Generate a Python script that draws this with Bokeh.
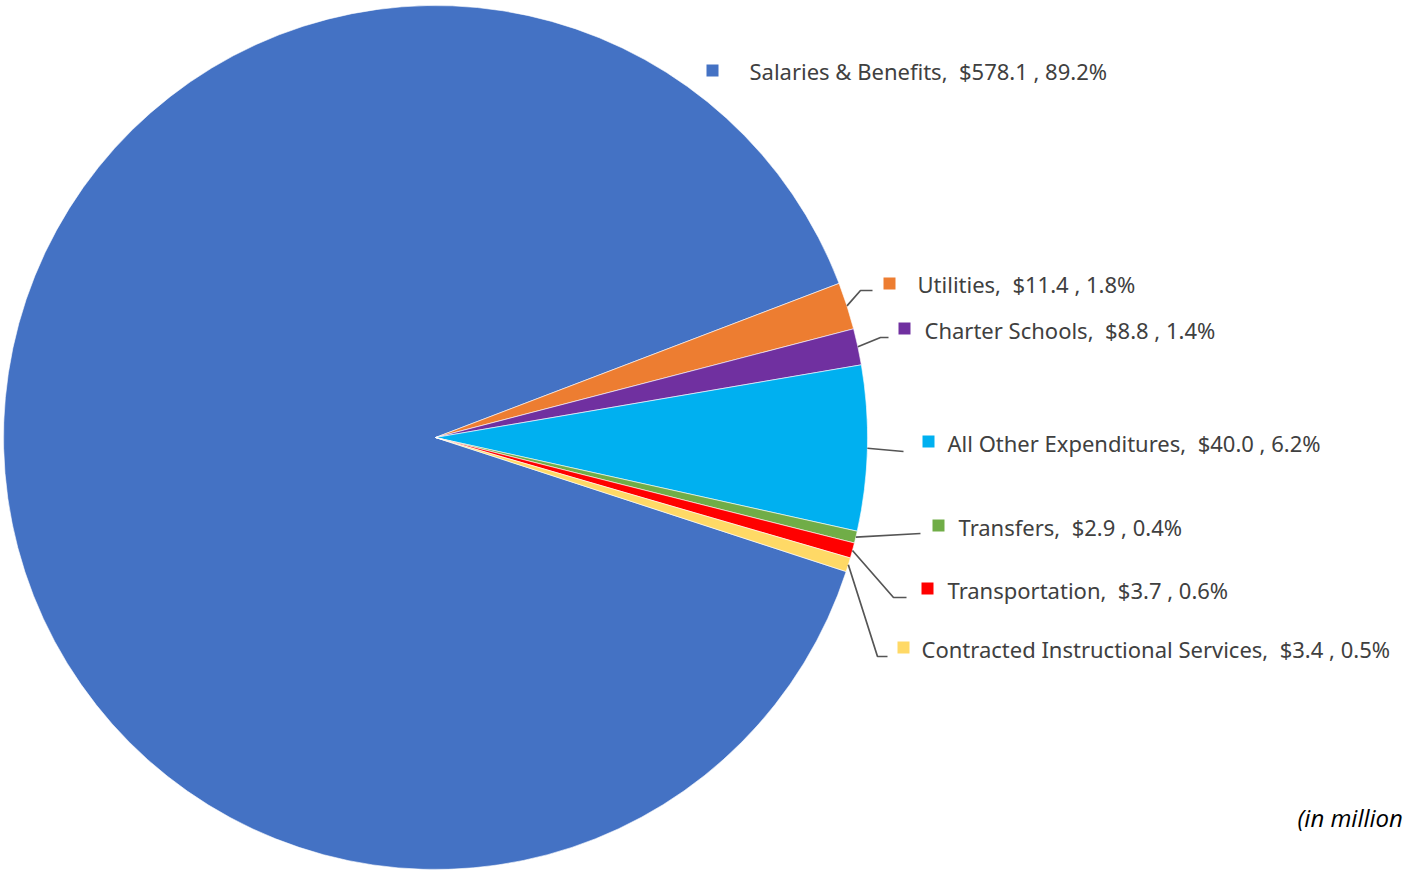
import math
from bokeh.plotting import figure
from bokeh.models import Range1d, ColumnDataSource
from bokeh.core.properties import value
from bokeh.embed import file_html
from bokeh.resources import INLINE

# ---- data ----
categories = ["Salaries & Benefits", "Utilities", "Charter Schools", "All Other Expenditures",
              "Transfers", "Transportation", "Contracted Instructional Services"]
amounts = [578.1, 11.4, 8.8, 40.0, 2.9, 3.7, 3.4]
pct_labels = ["89.2%", "1.8%", "1.4%", "6.2%", "0.4%", "0.6%", "0.5%"]
colors = ["#4472C4", "#ED7D31", "#7030A0", "#00B0F0", "#70AD47", "#FF0000", "#FFD966"]
unit_note = "(in million"

# ---- layout (screen pixel coords, y down) ----
W, H = 1405, 874
def Y(ys):
    return H - ys

CX, CY, R = 435, 437, 432
first_end_deg = 20.9  # where Salaries ends / Utilities starts (ccw from +x)

# marker centre x, marker centre y, text start x, label centre y
label_pos = [(712, 70, 749, 70), (889, 283, 917, 283), (904, 328, 924, 329),
             (928, 441, 947, 442), (938, 525, 958, 526), (927, 588, 947, 589),
             (903, 647, 921, 648)]
# leader line points after the slice-mid start point, None for no line
leader_pts = [None, [(860, 290), (872, 290)], [(880, 337), (888, 337)],
              [(903, 451)], [(920, 533)], [(893, 597), (906, 597)],
              [(877, 656), (887, 656)]]

p = figure(width=W, height=H, output_backend="svg", toolbar_location=None,
           x_range=Range1d(0, W), y_range=Range1d(0, H),
           min_border=0, outline_line_color=None)
p.axis.visible = False
p.grid.visible = False
p.background_fill_color = "white"

total = sum(amounts)
fracs = [a / total for a in amounts]
start = math.radians(first_end_deg) + fracs[0] * 2 * math.pi
starts, ends, mids = [], [], []
cur = start
for f in fracs:
    s = cur
    e = cur - f * 2 * math.pi
    starts.append(s)
    ends.append(e)
    mids.append((s + e) / 2)
    cur = e

src = ColumnDataSource(dict(start=starts, end=ends, color=colors))
p.wedge(x=CX, y=Y(CY), radius=R, start_angle="start", end_angle="end",
        direction="clock", fill_color="color", line_color="white", line_width=0.6,
        source=src)

# leader lines
for i, pts in enumerate(leader_pts):
    if pts is None:
        continue
    sx = CX + R * math.cos(mids[i])
    sy = CY - R * math.sin(mids[i])
    xs = [sx] + [q[0] for q in pts]
    ys = [Y(sy)] + [Y(q[1]) for q in pts]
    p.line(xs, ys, line_color="#555555", line_width=1.7)

# markers and labels
mx = [lp[0] for lp in label_pos]
my = [Y(lp[1]) for lp in label_pos]
p.scatter(mx, my, marker="square", size=12, fill_color=colors, line_color=None)

texts = [f"{c},\u00a0 ${a:.1f} , {pc}" for c, a, pc in zip(categories, amounts, pct_labels)]
tsrc = ColumnDataSource(dict(x=[lp[2] for lp in label_pos], y=[Y(lp[3]) for lp in label_pos], t=texts))
p.text(x="x", y="y", text="t", source=tsrc, text_font=value("Noto Sans"),
       text_font_size="22px", text_color="#404040", text_baseline="middle", text_align="left")

p.text(x=[1297], y=[Y(817)], text=[unit_note], text_font=value("Open Sans"),
       text_font_style="italic", text_font_size="24px", text_color="#000000",
       text_baseline="middle", text_align="left")

open("out.html", "w").write(file_html(p, INLINE))
